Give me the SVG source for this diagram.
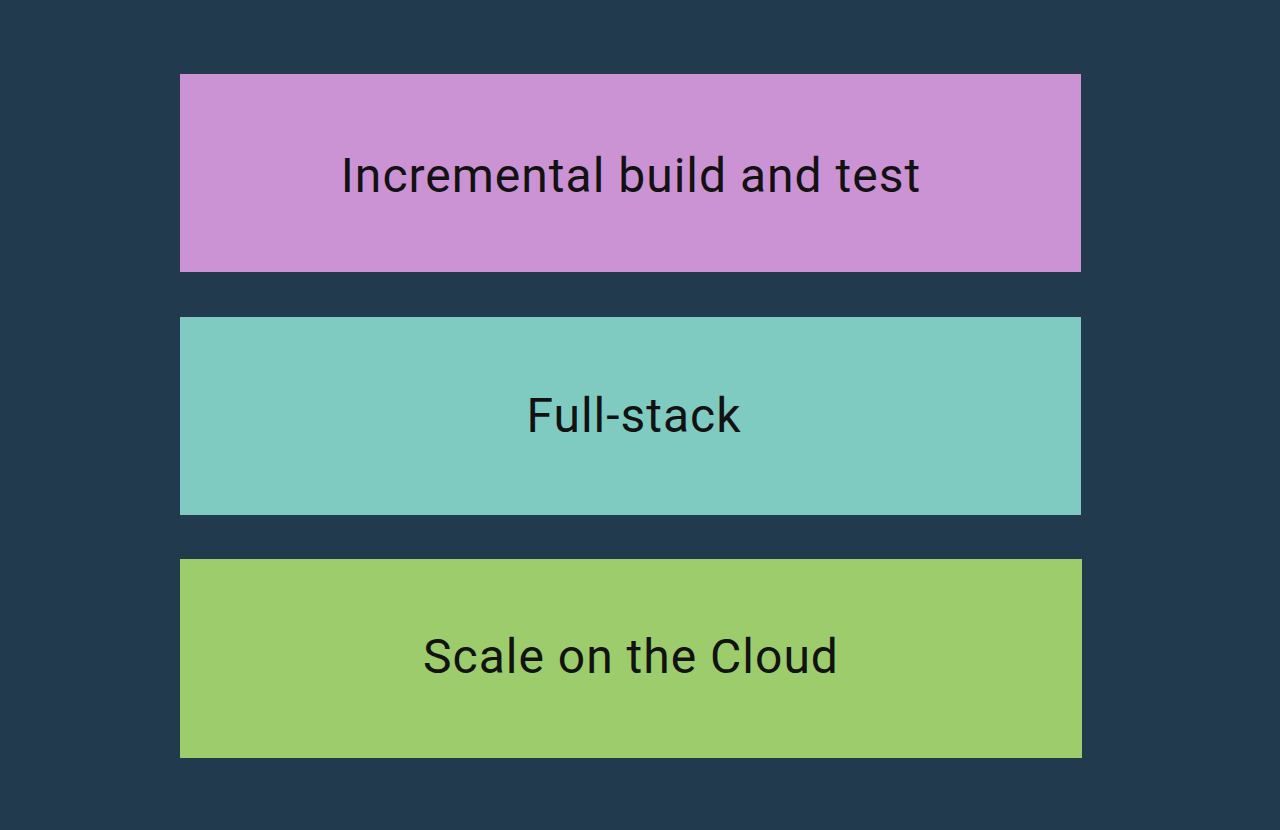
<svg xmlns="http://www.w3.org/2000/svg" width="1280" height="830" viewBox="0 0 1280 830">
<style>
.lbl{font-family:Roboto,"Liberation Sans",sans-serif;font-size:48px;letter-spacing:1px;fill:#121212;text-anchor:middle}
</style>
<rect width="1280" height="830" fill="#223a4e"/>
<g id="incremental">
<rect x="180" y="74" width="901" height="198" fill="#cc93d4"/>
<text class="lbl" x="631" y="192">Incremental build and test</text>
</g>
<g id="fullstack">
<rect x="180" y="317" width="901" height="198" fill="#80cbc1"/>
<text class="lbl" x="634" y="432">Full-stack</text>
</g>
<g id="cloud">
<rect x="180" y="559" width="902" height="199" fill="#9ccc6b"/>
<text class="lbl" x="631" y="673">Scale on the Cloud</text>
</g>
<g id="connectors"/>
</svg>
